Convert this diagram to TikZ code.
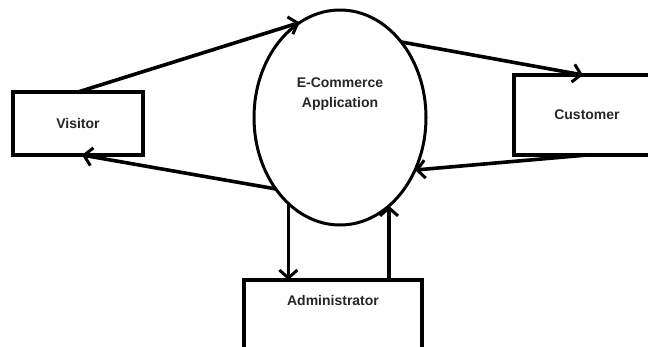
\documentclass[tikz,border=0pt]{standalone}
\usepackage{fontspec}
\setsansfont{Liberation Sans}
\usetikzlibrary{shapes.geometric}
\usetikzlibrary{arrows.meta}
\usetikzlibrary{positioning}
\begin{document}
\begin{tikzpicture}[
        x=1pt, y=-1pt,
        every node/.style={font={\sffamily\bfseries\fontsize{14}{20}\selectfont}, text=black!85},
        ]
        \tikzstyle{entity} = [draw, line width=3.6pt, rectangle, inner sep=0pt, outer sep=0pt];
        \tikzstyle{process} = [draw, line width=3pt, ellipse, inner sep=0pt, outer sep=0pt, align=center];
        \tikzstyle{flow} = [line width=3.6pt, -{Straight Barb[length=8pt, width=18pt, line width=3pt]}];
        \clip (0,0) rectangle (648,346);
        \node [process, minimum width=172pt, minimum height=215pt, text height=10pt, text depth=31pt] (app) at (340,117.5) {E-Commerce\\Application};
        \node [entity, minimum width=130pt, minimum height=63pt] (visitor) at (78,123.5) {Visitor\hspace{16pt}};
        \node [entity, minimum width=146pt, minimum height=80pt] (customer) at (587,115) {Customer};
        \node [entity, minimum width=178pt, text height=25pt, text depth=45pt, anchor=north] (admin) at (333,280) {Administrator};
        \draw [flow] (visitor.north) -- (app.113);
        \draw [flow] (app.51) -- ([xshift=-4pt]customer.north);
        \draw [flow] (customer.south) -- (app.-35);
        \draw [flow] (app.228) -- ([xshift=4pt]visitor.south);
        \draw [flow] (app.239.5) -- (app.239.5 |- admin.north);
        \draw [flow] (app.-61 |- admin.north) -- (app.-61);
    \end{tikzpicture}
\end{document}
